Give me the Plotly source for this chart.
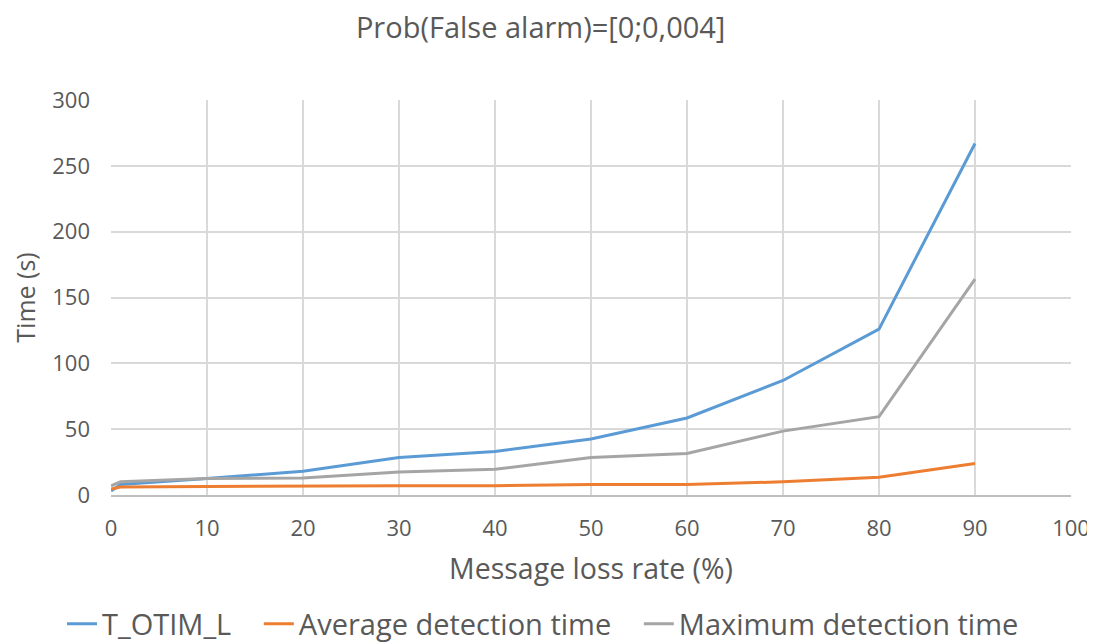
import plotly.graph_objects as go

# message loss rate (%)
loss_rate = [0, 1, 10, 20, 30, 40, 50, 60, 70, 80, 90]

# times in seconds
t_otim_l = [3, 8, 12.5, 18, 28.5, 33, 42.5, 58.5, 87, 126, 267]
avg_detection = [4.5, 6, 6.5, 7, 7, 7, 8, 8, 10, 13.5, 24]
max_detection = [7, 10, 12.5, 13, 17.5, 19.5, 28.5, 31.5, 48.5, 59.5, 164]

# trailing non-breaking spaces widen the gap between legend entries
gap = "\u00a0" * 3
series = [
    ("T_OTIM_L" + gap, t_otim_l, "#5B9BD5"),
    ("Average detection time" + gap, avg_detection, "#ED7D31"),
    ("Maximum detection time", max_detection, "#A5A5A5"),
]

font_family = "Open Sans, sans-serif"
text_color = "#595959"

fig = go.Figure()
for name, values, color in series:
    fig.add_trace(go.Scatter(
        x=loss_rate, y=values, name=name, mode="lines",
        line=dict(color=color, width=3),
    ))

# the page adds an 8px body margin, so the figure is a bit smaller than the window
fig.update_layout(
    width=1087, height=635,
    paper_bgcolor="white", plot_bgcolor="white",
    font=dict(family=font_family, color=text_color, size=22),
    title=dict(text="Prob(False alarm)=[0;0,004]", x=0.49, xanchor="center",
               y=0.969, yanchor="middle", font=dict(size=29, color=text_color)),
    margin=dict(l=103, r=24, t=92, b=148),
    legend=dict(orientation="h", x=0.45, xanchor="center",
                yref="container", y=0.03, yanchor="middle",
                font=dict(size=29), tracegroupgap=0),
    showlegend=True,
)

fig.update_xaxes(
    range=[0, 100], dtick=10, tick0=0, automargin=False,
    showgrid=True, gridcolor="#D9D9D9", gridwidth=2,
    showline=True, linecolor="#BFBFBF", linewidth=2,
    zeroline=False, ticks="", ticklabelstandoff=13,
    title=dict(text="Message loss rate (%)", font=dict(size=28.5, color=text_color), standoff=18),
)
fig.update_yaxes(
    range=[0, 300], dtick=50, tick0=0, automargin=False,
    showgrid=True, gridcolor="#D9D9D9", gridwidth=2,
    zeroline=False, showline=False, ticks="", ticklabelstandoff=20,
    title=dict(text="Time (s)", font=dict(size=25, color=text_color), standoff=24),
)

fig.write_html("out.html")
